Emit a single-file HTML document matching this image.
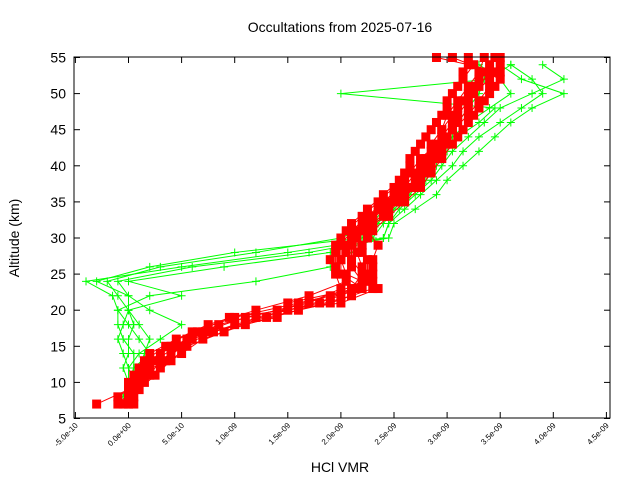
<!DOCTYPE html>
<html><head><meta charset="utf-8"><style>
body{margin:0;background:#fff}
svg{display:block;font-family:"Liberation Sans",sans-serif}
</style></head><body>
<svg id="chart" width="640" height="480">
<rect width="640" height="480" fill="#fff"/>
<text x="340" y="32" font-size="14" text-anchor="middle">Occultations from 2025-07-16</text>
<text x="340" y="472" font-size="14" text-anchor="middle">HCl VMR</text>
<text transform="translate(19,238) rotate(-90)" font-size="14" text-anchor="middle">Altitude (km)</text>
<g id="ticks"></g>
<g id="marks"></g>
<rect x="74" y="57" width="536" height="361" fill="none" stroke="#000" stroke-width="1"/>
</svg>
<script>
const xTicks=[-5e-10,0,5e-10,1e-9,1.5e-9,2e-9,2.5e-9,3e-9,3.5e-9,4e-9,4.5e-9];
const xTickLabels=["-5.0e-10","0.0e+00","5.0e-10","1.0e-09","1.5e-09","2.0e-09","2.5e-09","3.0e-09","3.5e-09","4.0e-09","4.5e-09"];
const yTicks=[5,10,15,20,25,30,35,40,45,50,55];
const redAlt=[7,9,11,13,15,17,19,21,23,25,27,29,31,33,35,37,39,41,43,45,47,49,51,53,55];
const redA=[-0.3,0.0,0.05,0.15,0.35,0.6,1.0,1.6,2.2,2.0,2.0,2.05,2.15,2.3,2.45,2.6,2.7,2.8,2.85,2.95,3.0,3.1,3.2,3.3,3.35];
const redB=[0.0,0.05,0.2,0.3,0.5,0.8,1.3,1.9,2.3,2.3,2.3,2.35,2.25,2.4,2.55,2.7,2.8,2.9,3.0,3.05,3.2,3.3,3.4,3.45,3.5];
const redC=[-0.05,0.0,0.1,0.25,0.45,0.7,1.1,1.7,2.0,1.95,1.9,1.95,2.05,2.2,2.35,2.5,2.6,2.65,2.75,2.85,2.95,3.0,3.1,3.15,3.2];
const redD=[0.0,0.1,0.25,0.4,0.55,0.9,1.2,1.8,2.1,2.2,2.1,2.1,2.2,2.3,2.5,2.65,2.75,2.85,2.95,3.05,3.1,3.2,3.25,3.35,3.45];
const redE=[0.05,0.0,0.15,0.2,0.4,0.75,1.4,1.5,2.15,2.25,2.25,2.2,2.3,2.45,2.6,2.75,2.85,2.95,3.05,3.15,3.25,3.35,3.45,3.5,2.9];
const redF=[-0.1,0.05,0.1,0.35,0.5,0.65,0.95,2.0,2.35,2.05,2.0,2.0,2.1,2.25,2.4,2.55,2.65,2.75,2.9,2.95,3.05,3.15,3.3,3.4,3.05];
const redAlt2=[8,10,12,14,16,18,20,22,24,26,28,30,32,34,36,38,40,42,44,46,48,50,52,54];
const redG=[0.0,0.05,0.15,0.3,0.55,0.85,1.4,1.9,2.2,2.1,2.05,2.1,2.2,2.35,2.5,2.6,2.75,2.85,2.95,3.05,3.1,3.2,3.3,3.4];
const redH=[-0.1,0.1,0.2,0.4,0.6,1.0,1.5,2.0,2.3,2.3,2.2,2.25,2.3,2.45,2.6,2.75,2.85,2.9,3.0,3.1,3.2,3.25,3.4,3.5];
const redI=[0.0,0.0,0.1,0.2,0.45,0.75,1.2,1.7,2.05,1.95,1.95,2.0,2.1,2.25,2.4,2.55,2.65,2.7,2.8,2.9,3.0,3.05,3.15,3.25];
const redJ=[0.05,0.15,0.3,0.5,0.7,1.1,1.6,2.1,2.25,2.2,2.15,2.15,2.25,2.4,2.55,2.7,2.8,2.95,3.1,3.2,3.3,3.4,3.5,3.2];
const greenAlt=[8,10,12,14,16,18,20,22,24,26,28,30,32,34,36,38,40,42,44,46,48,50,52,54];
const green1=[0.0,0.0,0.05,0.05,-0.05,-0.1,-0.1,-0.15,-0.4,0.5,1.5,2.4,2.45,2.55,2.7,2.85,2.95,3.05,3.2,3.35,3.5,3.8,4.1,3.9];
const green2=[0.05,0.0,-0.05,0.0,0.0,0.05,0.0,-0.1,-0.2,0.3,1.2,2.0,2.3,2.4,2.6,2.8,2.9,3.0,3.1,3.3,3.45,2.0,3.4,3.6];
const green3=[0.0,0.1,0.1,0.15,0.2,0.1,0.0,0.0,-0.1,0.6,1.7,2.45,2.5,2.7,2.9,3.0,3.15,3.3,3.45,3.6,3.8,4.1,3.7,3.5];
const green4=[-0.05,0.0,0.0,0.1,0.3,0.5,0.2,0.0,-0.3,0.2,1.0,2.2,2.35,2.45,2.55,2.7,2.8,2.9,3.0,3.1,3.2,3.3,3.35,3.4];
const green5=[0.0,0.0,0.05,0.2,0.1,0.0,-0.1,0.2,1.2,1.9,2.1,2.3,2.4,2.5,2.65,2.75,2.85,2.95,3.05,3.2,3.4,3.6,3.5,3.3];
const green6=[0.0,0.05,0.0,-0.05,-0.1,-0.05,0.0,0.5,0.0,0.9,1.9,2.4,2.45,2.6,2.75,2.9,3.05,3.15,3.3,3.5,3.7,3.9,3.8,3.6];

const NS="http://www.w3.org/2000/svg";
function xs(v){return 128.5+v*1.062e11;}
function ys(a){return 418.5-(a-5)*7.22;}
function mk(tag,attrs,parent){const e=document.createElementNS(NS,tag);for(const k in attrs)e.setAttribute(k,attrs[k]);parent.appendChild(e);return e;}
const T=document.getElementById('ticks'),M=document.getElementById('marks');
xTicks.forEach((v,i)=>{
  const x=xs(v);
  let l=mk('line',{x1:x,x2:x,y1:418,y2:412,stroke:'#000'},T);
  
  
  l=mk('line',{x1:x,x2:x,y1:57,y2:63,stroke:'#000'},T);
  
  
  const t=mk('text',{transform:`translate(${x+3},${426}) rotate(-45)`,'font-size':8,'text-anchor':'end'},T);
  t.textContent=xTickLabels[i];
  
  
});
yTicks.forEach(a=>{
  const y=ys(a);
  let l=mk('line',{x1:74,x2:80,y1:y,y2:y,stroke:'#000'},T);
  
  
  l=mk('line',{x1:610,x2:604,y1:y,y2:y,stroke:'#000'},T);
  
  
  const t=mk('text',{x:66,y:y+5,'font-size':14,'text-anchor':'end'},T);
  t.textContent=a;
  
  
});
function drawGreen(vals){
  const g=mk('g',{},M);
  
  
  const pts=vals.map((v,i)=>xs(v*1e-9)+','+ys(greenAlt[i])).join(' ');
  mk('polyline',{points:pts,fill:'none',stroke:'#00ff00','stroke-width':1},g);
  vals.forEach((v,i)=>{const x=xs(v*1e-9),y=ys(greenAlt[i]);
    const p=mk('path',{d:`M${x-4},${y}h8M${x},${y-4}v8`,stroke:'#00ff00','stroke-width':1},g);
    
    
  });
}
function drawRed(vals,alts){
  const g=mk('g',{},M);
  
  
  const pts=vals.map((v,i)=>xs(v*1e-9)+','+ys(alts[i])).join(' ');
  mk('polyline',{points:pts,fill:'none',stroke:'#ff0000','stroke-width':1},g);
  vals.forEach((v,i)=>{const x=xs(v*1e-9),y=ys(alts[i]);
    const r=mk('rect',{x:x-4.5,y:y-4.5,width:9,height:9,fill:'#ff0000'},g);
    
    
  });
}
[green1,green2,green3,green4,green5,green6].forEach(drawGreen);
[redA,redB,redC,redD,redE,redF].forEach(v=>drawRed(v,redAlt));
[redG,redH,redI,redJ].forEach(v=>drawRed(v,redAlt2));
</script>
</body></html>
